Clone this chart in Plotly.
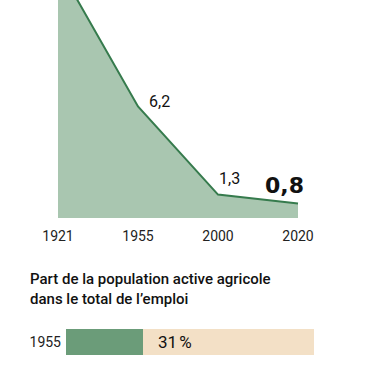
import plotly.graph_objects as go

# Data
years = ["1921", "1955", "2000", "2020"]
actifs_millions = [14.0, 6.2, 1.3, 0.8]
value_labels = ["", "6,2", "1,3", "0,8"]

bar_year = ["1955"]
bar_share = [31]
bar_rest = [69]

title_text = "Part de la population active agricole<br>dans le total de l’emploi"

W, H = 367, 366
FONT = "Roboto, sans-serif"

fig = go.Figure()

# Area chart
fig.add_trace(go.Scatter(
    x=years, y=actifs_millions, mode="lines", fill="tozeroy",
    line=dict(color="#367b4d", width=2), fillcolor="#a9c6b0",
    xaxis="x", yaxis="y", hoverinfo="skip", showlegend=False))

# Bar chart
fig.add_trace(go.Bar(
    y=bar_year, x=bar_share, orientation="h", marker=dict(color="#6b9c79", line=dict(width=0)),
    xaxis="x2", yaxis="y2", showlegend=False, hoverinfo="skip"))
fig.add_trace(go.Bar(
    y=bar_year, x=bar_rest, orientation="h", marker=dict(color="#f3e0c6", line=dict(width=0)),
    xaxis="x2", yaxis="y2", showlegend=False, hoverinfo="skip"))

# Value labels on area (positions from the data, small pixel offsets)
shifts = {"6,2": (21, 5), "1,3": (11, 16), "0,8": (-14, 18)}
for i, (v, lab) in enumerate(zip(actifs_millions, value_labels)):
    if not lab:
        continue
    dx, dy = shifts[lab]
    big = lab == "0,8"
    fig.add_annotation(
        x=i, y=v, xref="x", yref="y", text=f"<b>{lab}</b>" if big else lab,
        showarrow=False, xanchor="center", yanchor="middle", xshift=dx, yshift=dy,
        font=dict(family="DejaVu Sans" if big else FONT,
                  size=22 if big else 16, color="#111111"))

# Bar value label
for j, v in enumerate(bar_share):
    fig.add_annotation(
        x=v, y=j, xref="x2", yref="y2", text=f"{v}\u202f%", showarrow=False,
        xanchor="left", yanchor="middle", xshift=13,
        font=dict(family=FONT, size=17, color="#111111"))

# Title
fig.add_annotation(
    x=28 / W, y=1 - 268 / H, xref="paper", yref="paper", text=title_text,
    showarrow=False, xanchor="left", yanchor="top", align="left",
    font=dict(family=FONT, size=15, color="#111111", weight=500))

px_per_cat = 80
x0_px = 58
y_base_px = 218
px_per_unit = 18

fig.update_layout(
    width=W, height=H, autosize=False,
    margin=dict(l=0, r=0, t=0, b=0),
    paper_bgcolor="white", plot_bgcolor="white",
    barmode="stack", bargap=0,
    xaxis=dict(domain=[0, 1], type="category",
               range=[-x0_px / px_per_cat, -x0_px / px_per_cat + W / px_per_cat],
               showgrid=False, zeroline=False, showline=False,
               ticks="outside", ticklen=5, tickcolor="rgba(0,0,0,0)",
               tickfont=dict(family=FONT, size=14, color="#222222"),
               anchor="y", fixedrange=True),
    yaxis=dict(domain=[1 - y_base_px / H, 1],
               range=[0, y_base_px / px_per_unit],
               showgrid=False, zeroline=False, showline=False,
               showticklabels=False, ticks="", fixedrange=True),
    xaxis2=dict(domain=[66 / W, 314 / W], range=[0, 100], anchor="y2",
                showgrid=False, zeroline=False, showline=False,
                showticklabels=False, ticks="", fixedrange=True),
    yaxis2=dict(domain=[1 - 355 / H, 1 - 329 / H], range=[-0.5, 0.5], anchor="x2",
                type="category", showgrid=False, zeroline=False, showline=False,
                ticks="", ticklabelstandoff=4,
                tickfont=dict(family=FONT, size=14, color="#222222"),
                fixedrange=True),
)

fig.write_html("out.html", config={"displayModeBar": False},
               post_script="document.body.style.margin='0';")
